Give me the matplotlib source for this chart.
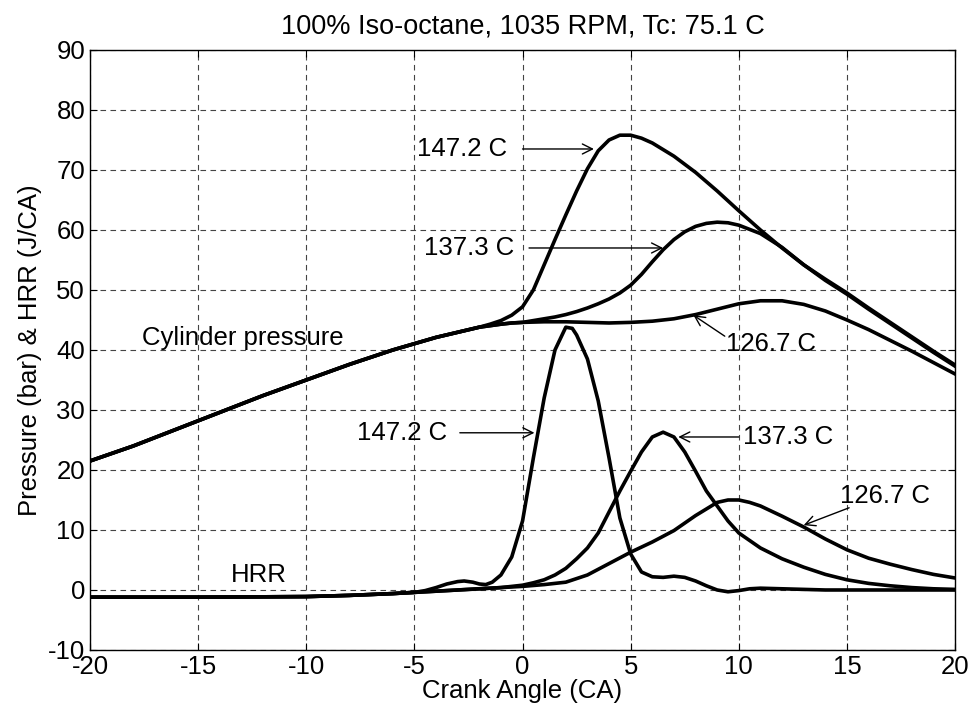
import matplotlib
matplotlib.use("Agg")
import matplotlib.pyplot as plt
import numpy as np

plt.rcParams['font.family'] = ['Liberation Sans', 'DejaVu Sans']
plt.rcParams['axes.unicode_minus'] = False

# Cylinder pressure, common part before combustion (crank angle -20 .. 0)
p_common_x = [-20, -18, -16, -14, -12, -10, -8, -6, -4, -2, -1, -0.5, 0]
p_common_y = [21.5, 24.0, 26.8, 29.6, 32.4, 35.0, 37.6, 40.0, 42.1, 43.8, 44.3, 44.5, 44.6]

# Pressure 147.2 C
p147_x = [-20, -18, -16, -14, -12, -10, -8, -6, -4, -2, -1.5, -1, -0.5, 0, 0.5, 1, 1.5, 2, 2.5, 3, 3.5,
          4, 4.5, 5, 5.5, 6, 7, 8, 9, 10, 11, 12, 13, 14, 15, 16, 17, 18, 19, 20]
p147_y = [21.5, 24.0, 26.8, 29.6, 32.4, 35.0, 37.6, 40.0, 42.1, 43.8, 44.3, 44.9, 45.8, 47.2, 50.0, 54.2,
          58.4, 62.5, 66.5, 70.2, 73.2, 75.0, 75.8, 75.8, 75.3, 74.5, 72.3, 69.6, 66.5, 63.2, 60.0, 57.0,
          54.2, 51.8, 49.5, 47.0, 44.6, 42.2, 39.8, 37.5]

# Pressure 137.3 C
p137_x = [0.5, 1, 1.5, 2, 2.5, 3, 3.5, 4, 4.5, 5, 5.5, 6, 6.5, 7, 7.5, 8, 8.5, 9, 9.5, 10,
          11, 12, 13, 14, 15, 16, 17, 18, 19, 20]
p137_y = [44.9, 45.2, 45.5, 45.9, 46.4, 47.0, 47.7, 48.5, 49.5, 50.8, 52.6, 54.7, 56.7, 58.4, 59.7,
          60.6, 61.1, 61.3, 61.2, 60.8, 59.4, 57.1, 54.2, 51.6, 49.3, 46.8, 44.4, 42.0, 39.6, 37.3]

# Pressure 126.7 C
p126_x = [1, 2, 3, 4, 5, 6, 7, 8, 9, 10, 11, 12, 13, 14, 15, 16, 17, 18, 19, 20]
p126_y = [44.7, 44.7, 44.6, 44.5, 44.6, 44.8, 45.2, 45.9, 46.8, 47.7, 48.2, 48.2, 47.6, 46.5, 45.0,
          43.4, 41.6, 39.8, 37.9, 36.0]

# HRR, common part (-20 .. -5)
h_common_x = [-20, -15, -10, -9, -8, -7, -6, -5]
h_common_y = [-1.2, -1.2, -1.1, -1.0, -0.9, -0.75, -0.6, -0.4]

# HRR 147.2 C
h147_x = [-4.5, -4, -3.5, -3, -2.7, -2.3, -2, -1.7, -1.4, -1, -0.5, 0, 0.5, 1, 1.5, 2, 2.3, 2.5, 3,
          3.5, 4, 4.5, 5, 5.5, 6, 6.5, 7, 7.5, 8, 8.5, 9, 9.5, 10, 10.5, 11, 12, 13, 14, 16, 18, 20]
h147_y = [-0.1, 0.4, 1.0, 1.4, 1.5, 1.3, 1.0, 0.9, 1.3, 2.5, 5.5, 11.5, 22.0, 32.0, 40.0, 43.8, 43.6,
          42.5, 38.5, 31.5, 22.0, 12.0, 6.0, 3.0, 2.2, 2.1, 2.3, 2.1, 1.5, 0.7, 0.0, -0.3, -0.1, 0.2,
          0.3, 0.2, 0.1, 0.0, 0.0, 0.0, 0.0]

# HRR 137.3 C
h137_x = [-4, -3, -2, -1, 0, 0.5, 1, 1.5, 2, 2.5, 3, 3.5, 4, 4.5, 5, 5.5, 6, 6.5, 7, 7.5, 8, 8.5,
          9, 9.5, 10, 11, 12, 13, 14, 15, 16, 17, 18, 19, 20]
h137_y = [-0.2, 0.0, 0.2, 0.4, 0.8, 1.2, 1.7, 2.5, 3.6, 5.2, 7.0, 9.5, 13.0, 16.5, 19.8, 23.0, 25.5,
          26.3, 25.5, 23.0, 19.8, 16.5, 14.0, 11.5, 9.5, 7.0, 5.2, 3.8, 2.6, 1.7, 1.1, 0.7, 0.4, 0.2, 0.1]

# HRR 126.7 C
h126_x = [-4, -3, -2, -1, 0, 1, 2, 3, 4, 5, 6, 7, 8, 9, 9.5, 10, 10.5, 11, 12, 13, 14, 15, 16, 17,
          18, 19, 20]
h126_y = [-0.2, 0.0, 0.2, 0.4, 0.6, 0.9, 1.3, 2.5, 4.4, 6.3, 8.0, 9.9, 12.4, 14.6, 15.0, 15.0, 14.6,
          14.0, 12.3, 10.5, 8.5, 6.7, 5.3, 4.3, 3.4, 2.6, 2.0]

fig = plt.figure(figsize=(9.72, 7.12), dpi=100)
ax = fig.add_axes([0.0926, 0.0871, 0.89, 0.8427])

lw = 2.6
ax.plot(p147_x, p147_y, color='black', linewidth=lw)
ax.plot(p_common_x + p137_x, p_common_y + p137_y, color='black', linewidth=lw)
ax.plot(p_common_x + p126_x, p_common_y + p126_y, color='black', linewidth=lw)
ax.plot(h_common_x + h147_x, h_common_y + h147_y, color='black', linewidth=lw)
ax.plot(h_common_x + h137_x, h_common_y + h137_y, color='black', linewidth=lw)
ax.plot(h_common_x + h126_x, h_common_y + h126_y, color='black', linewidth=lw)

ax.set_xlim(-20, 20)
ax.set_ylim(-10, 90)
ax.set_xticks(np.arange(-20, 21, 5))
ax.set_yticks(np.arange(-10, 91, 10))
ax.grid(True, color='#444444', linestyle=(0, (5, 4)), linewidth=0.8)
ax.tick_params(direction='in', top=True, right=True, labelsize=18.5, length=5)
for s in ax.spines.values():
    s.set_linewidth(1.0)

fs = 18.5
ax.set_title("100% Iso-octane, 1035 RPM, Tc: 75.1 C", fontsize=19.5, pad=12)
ax.set_xlabel("Crank Angle (CA)", fontsize=fs, labelpad=0)
ax.set_ylabel("Pressure (bar) & HRR (J/CA)", fontsize=fs, labelpad=4)

arrow = dict(arrowstyle='->', color='black', lw=1.0, shrinkA=0, shrinkB=0, mutation_scale=18)

# pressure labels
ax.text(-0.7, 73.5, "147.2 C", fontsize=fs, ha='right', va='center')
ax.annotate("", xy=(3.3, 73.5), xytext=(0.0, 73.5), arrowprops=arrow)

ax.text(-0.4, 57.0, "137.3 C", fontsize=fs, ha='right', va='center')
ax.annotate("", xy=(6.5, 57.0), xytext=(0.3, 57.0), arrowprops=arrow)

ax.text(9.4, 41.0, "126.7 C", fontsize=fs, ha='left', va='center')
ax.annotate("", xy=(7.9, 45.8), xytext=(9.35, 42.3), arrowprops=arrow)

ax.text(-17.6, 42.0, "Cylinder pressure", fontsize=fs, ha='left', va='center')

# HRR labels
ax.text(-3.5, 26.2, "147.2 C", fontsize=fs, ha='right', va='center')
ax.annotate("", xy=(0.55, 26.2), xytext=(-2.9, 26.2), arrowprops=arrow)

ax.text(10.2, 25.5, "137.3 C", fontsize=fs, ha='left', va='center')
ax.annotate("", xy=(7.2, 25.5), xytext=(10.0, 25.5), arrowprops=arrow)

ax.text(14.7, 15.7, "126.7 C", fontsize=fs, ha='left', va='center')
ax.annotate("", xy=(13.0, 10.8), xytext=(15.1, 13.7), arrowprops=arrow)

ax.text(-13.5, 2.5, "HRR", fontsize=fs, ha='left', va='center')

fig.savefig("out.png", dpi=100)
